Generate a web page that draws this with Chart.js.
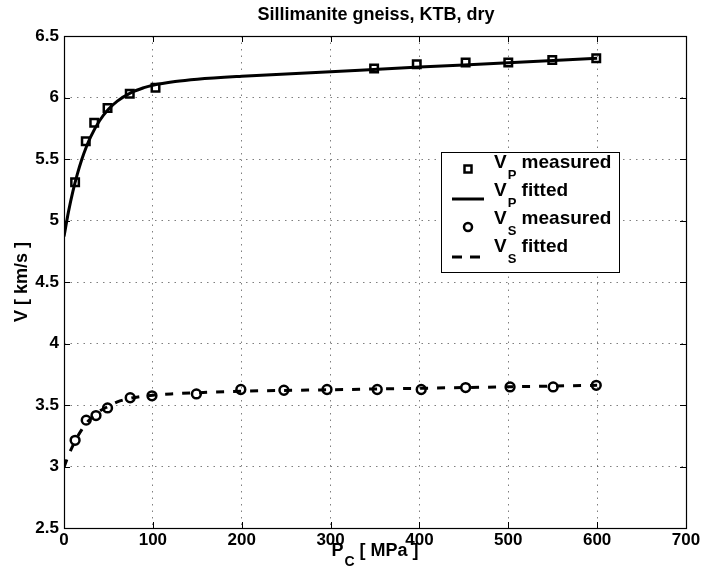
<!DOCTYPE html>
<html>
<head>
<meta charset="utf-8">
<script src="https://cdn.jsdelivr.net/npm/chart.js@4/dist/chart.umd.min.js"></script>
<style>
  html, body { margin: 0; padding: 0; background: #ffffff; }
  canvas { display: block; }
</style>
</head>
<body>
<canvas id="chart" width="704" height="579"></canvas>
<script>
// Sillimanite gneiss (KTB), dry: P- and S-wave velocity versus confining pressure

// P-wave, measured
const vpPressure = [12.5, 24.5, 34, 49, 74, 103, 349, 397, 452, 500, 549.5, 599];
const vpMeasured = [5.31, 5.645, 5.795, 5.915, 6.03, 6.08, 6.235, 6.27, 6.285, 6.285, 6.305, 6.32];

// P-wave, fitted curve
const vpFitPressure = [0, 5, 10, 15, 20, 25, 30, 40, 50, 60, 75, 90, 100, 125, 150, 200, 300, 400, 500, 600];
const vpFitted = [4.87, 5.07, 5.237, 5.377, 5.496, 5.596, 5.68, 5.811, 5.904, 5.971, 6.038, 6.08, 6.1, 6.13, 6.149, 6.173, 6.21, 6.247, 6.283, 6.32];

// S-wave, measured
const vsPressure = [12.5, 25, 36, 49, 74.5, 99, 149, 199, 247.5, 296, 352.5, 402, 452, 502, 550.5, 599];
const vsMeasured = [3.213, 3.377, 3.414, 3.476, 3.559, 3.575, 3.59, 3.626, 3.62, 3.626, 3.626, 3.626, 3.642, 3.647, 3.647, 3.66];

// S-wave, fitted curve
const vsFitPressure = [0, 5, 10, 15, 20, 25, 30, 40, 50, 60, 75, 100, 125, 150, 200, 300, 400, 500, 600];
const vsFitted = [2.995, 3.09, 3.17, 3.24, 3.3, 3.35, 3.39, 3.45, 3.49, 3.525, 3.555, 3.58, 3.592, 3.6, 3.612, 3.624, 3.636, 3.648, 3.66];

// Axis ticks
const xTickValues = [0, 100, 200, 300, 400, 500, 600, 700];
const yTickValues = [2.5, 3, 3.5, 4, 4.5, 5, 5.5, 6, 6.5];

const FONT = '"Liberation Sans", Arial, Helvetica, sans-serif';

const toPoints = (xs, ys) => xs.map((x, i) => ({ x: x, y: ys[i] }));

// Writes text with a lowered subscript, e.g. V_P; returns the end x
function drawSubText(ctx, x, y, main, sub, rest, size, subSize, subDrop) {
  ctx.font = 'bold ' + size + 'px ' + FONT;
  ctx.fillText(main, x, y);
  x += ctx.measureText(main).width + 1;
  ctx.font = 'bold ' + subSize + 'px ' + FONT;
  ctx.fillText(sub, x, y + subDrop);
  x += ctx.measureText(sub).width;
  ctx.font = 'bold ' + size + 'px ' + FONT;
  ctx.fillText(rest, x, y);
  return x + ctx.measureText(rest).width;
}

function subTextWidth(ctx, main, sub, rest, size, subSize) {
  ctx.font = 'bold ' + size + 'px ' + FONT;
  let w = ctx.measureText(main).width + 1 + ctx.measureText(rest).width;
  ctx.font = 'bold ' + subSize + 'px ' + FONT;
  return w + ctx.measureText(sub).width;
}

// Box, inward ticks, title, axis titles and legend
const decorations = {
  id: 'decorations',
  afterDraw(chart) {
    const ctx = chart.ctx;
    const area = chart.chartArea;
    const xs = chart.scales.x;
    const ys = chart.scales.y;
    ctx.save();

    // axes box
    ctx.strokeStyle = '#000';
    ctx.lineWidth = 1.2;
    ctx.setLineDash([]);
    ctx.strokeRect(Math.round(area.left) + 0.5, Math.round(area.top) + 0.5,
                   Math.round(area.right - area.left), Math.round(area.bottom - area.top));

    // inward tick marks on all four sides
    const tl = 6;
    ctx.lineWidth = 1;
    ctx.beginPath();
    xTickValues.forEach(v => {
      const px = Math.round(xs.getPixelForValue(v)) + 0.5;
      ctx.moveTo(px, area.bottom); ctx.lineTo(px, area.bottom - tl);
      ctx.moveTo(px, area.top); ctx.lineTo(px, area.top + tl);
    });
    yTickValues.forEach(v => {
      const py = Math.round(ys.getPixelForValue(v)) + 0.5;
      ctx.moveTo(area.left, py); ctx.lineTo(area.left + tl, py);
      ctx.moveTo(area.right, py); ctx.lineTo(area.right - tl, py);
    });
    ctx.stroke();

    ctx.fillStyle = '#000';
    ctx.textBaseline = 'alphabetic';

    // title
    ctx.font = 'bold 18px ' + FONT;
    ctx.textAlign = 'center';
    ctx.fillText('Sillimanite gneiss, KTB, dry', (area.left + area.right) / 2 + 1, 20);

    // x axis title: P_C [ MPa ]
    ctx.textAlign = 'left';
    const xw = subTextWidth(ctx, 'P', 'C', ' [ MPa ]', 18, 14);
    drawSubText(ctx, (area.left + area.right) / 2 - xw / 2, 556, 'P', 'C', ' [ MPa ]', 18, 14, 10);

    // y axis title
    ctx.save();
    ctx.translate(27, (area.top + area.bottom) / 2);
    ctx.rotate(-Math.PI / 2);
    ctx.textAlign = 'center';
    ctx.font = 'bold 18px ' + FONT;
    ctx.fillText('V [ km/s ]', 0, 0);
    ctx.restore();

    // legend
    const lx = 441, ly = 152, lw = 178, lh = 120;
    ctx.fillStyle = '#fff';
    ctx.fillRect(lx, ly, lw, lh);
    ctx.strokeStyle = '#000';
    ctx.lineWidth = 1;
    ctx.strokeRect(lx + 0.5, ly + 0.5, lw, lh);

    const symX = 468;
    // measured P: square
    ctx.lineWidth = 2.5;
    ctx.strokeRect(symX - 3.5, 169 - 3.5, 7, 7);
    // fitted P: solid line
    ctx.lineWidth = 3;
    ctx.beginPath(); ctx.moveTo(452, 199); ctx.lineTo(484, 199); ctx.stroke();
    // measured S: circle
    ctx.lineWidth = 2.5;
    ctx.beginPath(); ctx.arc(symX, 227, 4, 0, Math.PI * 2); ctx.stroke();
    // fitted S: dashed line
    ctx.lineWidth = 3;
    ctx.setLineDash([10, 8]);
    ctx.beginPath(); ctx.moveTo(452, 257); ctx.lineTo(481, 257); ctx.stroke();
    ctx.setLineDash([]);

    ctx.fillStyle = '#000';
    ctx.textAlign = 'left';
    const rows = [
      ['V', 'P', ' measured', 168],
      ['V', 'P', ' fitted', 196],
      ['V', 'S', ' measured', 224],
      ['V', 'S', ' fitted', 252]
    ];
    rows.forEach(r => drawSubText(ctx, 494, r[3], r[0], r[1], r[2], 19, 13, 11));

    ctx.restore();
  }
};

const gridCommon = {
  color: 'rgba(0,0,0,0.5)',
  lineWidth: 1,
  drawTicks: false
};

new Chart(document.getElementById('chart'), {
  type: 'scatter',
  data: {
    datasets: [
      {
        label: 'VP fitted',
        type: 'line',
        data: toPoints(vpFitPressure, vpFitted),
        borderColor: '#000',
        borderWidth: 3,
        pointRadius: 0,
        fill: false,
        cubicInterpolationMode: 'monotone',
        order: 0
      },
      {
        label: 'VS fitted',
        type: 'line',
        data: toPoints(vsFitPressure, vsFitted),
        borderColor: '#000',
        borderWidth: 3,
        borderDash: [8, 9],
        pointRadius: 0,
        fill: false,
        cubicInterpolationMode: 'monotone',
        order: 0
      },
      {
        label: 'VP measured',
        data: toPoints(vpPressure, vpMeasured),
        pointStyle: 'rect',
        pointRadius: 5.3,
        pointBorderWidth: 2.5,
        pointBorderColor: '#000',
        pointBackgroundColor: 'rgba(0,0,0,0)',
        showLine: false,
        order: 1
      },
      {
        label: 'VS measured',
        data: toPoints(vsPressure, vsMeasured),
        pointStyle: 'circle',
        pointRadius: 4.4,
        pointBorderWidth: 2.5,
        pointBorderColor: '#000',
        pointBackgroundColor: 'rgba(0,0,0,0)',
        showLine: false,
        order: 1
      }
    ]
  },
  options: {
    responsive: false,
    animation: false,
    layout: { padding: { left: 0, top: 36, right: 18, bottom: 0 } },
    plugins: {
      legend: { display: false },
      title: { display: false },
      tooltip: { enabled: false }
    },
    scales: {
      x: {
        type: 'linear',
        min: 0,
        max: 700,
        afterFit(scale) { scale.height = 51; },
        afterBuildTicks(scale) { scale.ticks = xTickValues.map(v => ({ value: v })); },
        grid: gridCommon,
        border: { display: false, dash: [1.5, 5] },
        ticks: {
          color: '#000',
          padding: 2,
          maxRotation: 0,
          font: { family: FONT, size: 17, weight: 'bold' },
          callback: v => String(v)
        }
      },
      y: {
        type: 'linear',
        min: 2.5,
        max: 6.5,
        afterFit(scale) { scale.width = 64; },
        afterBuildTicks(scale) { scale.ticks = yTickValues.map(v => ({ value: v })); },
        grid: gridCommon,
        border: { display: false, dash: [1.5, 5] },
        ticks: {
          color: '#000',
          padding: 5,
          font: { family: FONT, size: 17, weight: 'bold' },
          callback: v => String(v)
        }
      }
    }
  },
  plugins: [decorations]
});
</script>
</body>
</html>
